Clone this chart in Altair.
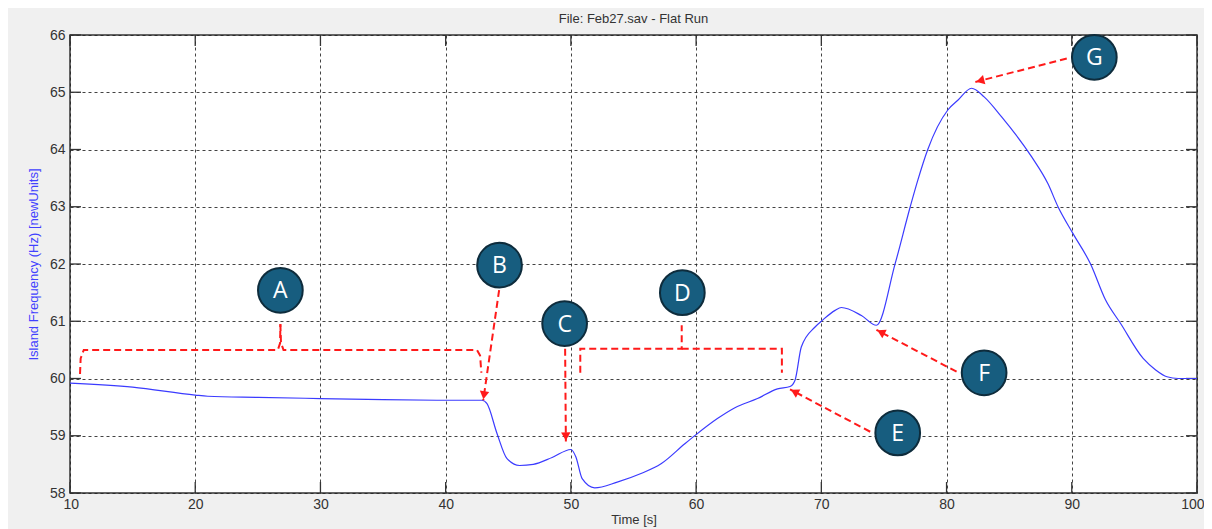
import math
import altair as alt
import pandas as pd

# ---------------- data ----------------
time_s = [10, 15, 20, 21, 25, 30, 35, 40, 42.9, 43.3, 44.1, 44.9, 45.9, 47.0, 48.5,
          50.0, 50.4, 50.9, 51.9, 53.7, 55.6, 57.2, 59.1, 60.0, 61.7, 63.1, 64.9, 66.5,
          67.5, 67.9, 68.4, 69.5, 70.1, 71.1, 71.6, 73.2, 74.4, 75.9, 77.1, 77.7, 78.5,
          80.1, 80.9, 82.0, 83.0, 84.4, 86.8, 88.1, 88.9, 90.1, 91.5, 92.7, 93.9, 95.7,
          96.7, 97.6, 98.5, 100]
freq_hz = [59.92, 59.85, 59.71, 59.69, 59.67, 59.65, 59.63, 59.62, 59.62, 59.56, 59.04,
           58.6, 58.48, 58.5, 58.62, 58.76, 58.63, 58.25, 58.09, 58.19, 58.34, 58.51,
           58.86, 59.02, 59.3, 59.49, 59.65, 59.82, 59.86, 59.97, 60.55, 60.9, 61.02,
           61.19, 61.24, 61.1, 60.93, 62.01, 63.0, 63.46, 64.0, 64.69, 64.86, 65.07,
           64.92, 64.57, 63.87, 63.4, 63.0, 62.53, 62.0, 61.37, 60.96, 60.35, 60.15,
           60.03, 60.0, 60.0]

x_ticks = [10, 20, 30, 40, 50, 60, 70, 80, 90, 100]
y_ticks = [58, 59, 60, 61, 62, 63, 64, 65, 66]

labels = ["A", "B", "C", "D", "E", "F", "G"]
label_t = [26.8, 44.3, 49.5, 58.9, 76.1, 83.0, 91.8]
label_f = [61.54, 61.98, 60.96, 61.5, 59.05, 60.1, 65.61]

arrow_id = ["B", "C", "E", "F", "G"]
arrow_t1 = [44.27, 49.54, 73.9, 80.8, 89.6]
arrow_f1 = [61.545, 60.52, 59.07, 60.12, 65.59]
arrow_t2 = [43.0, 49.6, 67.5, 74.4, 82.3]
arrow_f2 = [59.62, 58.9, 59.81, 60.85, 65.18]

bracket_id = ["A1"] * 6 + ["A2"] * 6 + ["D1"] * 4 + ["D2"] * 3
bracket_t = [10.8, 10.85, 11.1, 26.6, 26.78, 26.8,
             26.8, 26.85, 27.05, 42.5, 42.75, 42.85,
             50.75, 50.75, 58.85, 58.85,
             58.85, 66.85, 66.85]
bracket_f = [60.08, 60.35, 60.5, 60.5, 60.62, 60.95,
             60.95, 60.62, 60.5, 60.5, 60.4, 60.1,
             60.1, 60.52, 60.52, 60.93,
             60.52, 60.52, 60.1]

# ---------------- geometry ----------------
W, H = 1127, 458
X_DOM, Y_DOM = [10, 100], [58, 66]
PX_S = W / (X_DOM[1] - X_DOM[0])
PX_HZ = H / (Y_DOM[1] - Y_DOM[0])
TICK_PX = 11

xs = alt.Scale(domain=X_DOM, nice=False, zero=False)
ys = alt.Scale(domain=Y_DOM, nice=False, zero=False)

X_TITLE = "Time [s]"
Y_TITLE = "Island Frequency (Hz) [newUnits]"
x_axis = alt.Axis(values=x_ticks, grid=True, ticks=False, domain=False, labelPadding=4,
                  labelFlush=True, labelFlushOffset=7, titlePadding=2, titleFontSize=13)
y_axis = alt.Axis(values=y_ticks, grid=True, ticks=False, domain=False, labelPadding=5,
                  labelFlush=False, titlePadding=9, titleColor="#4141ff", titleFontSize=13)


def X(field):
    return alt.X(field, scale=xs, axis=x_axis, title=X_TITLE)


def Y(field):
    return alt.Y(field, scale=ys, axis=y_axis, title=Y_TITLE)


RED = "#ff1a1a"

line_df = pd.DataFrame({"t": time_s, "f": freq_hz})
base_line = alt.Chart(line_df).mark_line(color="#3b3bff", strokeWidth=1.2,
                                          interpolate="monotone").encode(
    x=X("t:Q"), y=Y("f:Q"))

# inner tick marks
tx = TICK_PX / PX_HZ
ty = TICK_PX / PX_S
xt_rows = []
for v in x_ticks:
    xt_rows.append({"a": v, "b": v, "c": Y_DOM[0], "d": Y_DOM[0] + tx})
    xt_rows.append({"a": v, "b": v, "c": Y_DOM[1] - tx, "d": Y_DOM[1]})
for v in y_ticks:
    xt_rows.append({"a": X_DOM[0], "b": X_DOM[0] + ty, "c": v, "d": v})
    xt_rows.append({"a": X_DOM[1] - ty, "b": X_DOM[1], "c": v, "d": v})
ticks_layer = alt.Chart(pd.DataFrame(xt_rows)).mark_rule(color="#333333", strokeWidth=1.3).encode(
    x=X("a:Q"), x2="b:Q", y=Y("c:Q"), y2="d:Q")

# brackets
br_df = pd.DataFrame({"id": bracket_id, "t": bracket_t, "f": bracket_f,
                      "o": list(range(len(bracket_t)))})
brackets = alt.Chart(br_df).mark_line(color=RED, strokeWidth=2, strokeDash=[7, 4]).encode(
    x=X("t:Q"), y=Y("f:Q"), detail="id:N", order="o:Q")

# arrows
ar_df = pd.DataFrame({"id": arrow_id, "t1": arrow_t1, "f1": arrow_f1,
                      "t2": arrow_t2, "f2": arrow_f2})
arrow_lines = alt.Chart(ar_df).mark_rule(color=RED, strokeWidth=2, strokeDash=[7, 4]).encode(
    x=X("t1:Q"), y=Y("f1:Q"), x2="t2:Q", y2="f2:Q")
head_rows = []
for i, t1, f1, t2, f2 in zip(arrow_id, arrow_t1, arrow_f1, arrow_t2, arrow_f2):
    dxp = (t2 - t1) * PX_S
    dyp = -(f2 - f1) * PX_HZ
    n = math.hypot(dxp, dyp)
    ang = math.degrees(math.atan2(dxp, -dyp)) % 360
    back = 5.0
    head_rows.append({"id": i,
                      "t": t2 - dxp / n * back / PX_S,
                      "f": f2 + dyp / n * back / PX_HZ,
                      "ang": ang})
heads = alt.Chart(pd.DataFrame(head_rows)).mark_point(
    shape="triangle-up", filled=True, color=RED, size=90, opacity=1
).encode(x=X("t:Q"), y=Y("f:Q"), angle=alt.Angle("ang:Q", scale=None))

# label circles
lb_df = pd.DataFrame({"lab": labels, "t": label_t, "f": label_f})
circles = alt.Chart(lb_df).mark_point(
    shape="circle", filled=True, fill="#175d7f", stroke="#0e2c3c", strokeWidth=2,
    size=2000, opacity=1
).encode(x=X("t:Q"), y=Y("f:Q"))
letters = alt.Chart(lb_df).mark_text(
    color="white", fontSize=23, font="Open Sans", baseline="middle", align="center", dy=1
).encode(x=X("t:Q"), y=Y("f:Q"), text="lab:N")

chart = alt.layer(
    ticks_layer, base_line, brackets, arrow_lines, heads, circles, letters
).properties(
    width=W, height=H,
    title=alt.TitleParams("File: Feb27.sav - Flat Run", fontSize=13, font="Liberation Sans",
                          fontWeight="normal", color="#333333", anchor="middle", offset=2),
    padding={"left": 62, "top": 27, "right": 7, "bottom": 45},
    autosize=alt.AutoSizeParams(type="none"),
    background="#f0f0f0",
).configure_view(
    stroke="#333333", strokeWidth=1.5, fill="white"
).configure_axis(
    gridColor="#222222", gridDash=[3, 3], gridWidth=1, gridOpacity=0.85,
    labelFont="Liberation Sans", labelFontSize=14, labelColor="#333333",
    titleFont="Liberation Sans", titleFontWeight="normal",
    titleColor="#333333",
)

chart.save("out.html", embed_options={"renderer": "svg", "actions": False})
